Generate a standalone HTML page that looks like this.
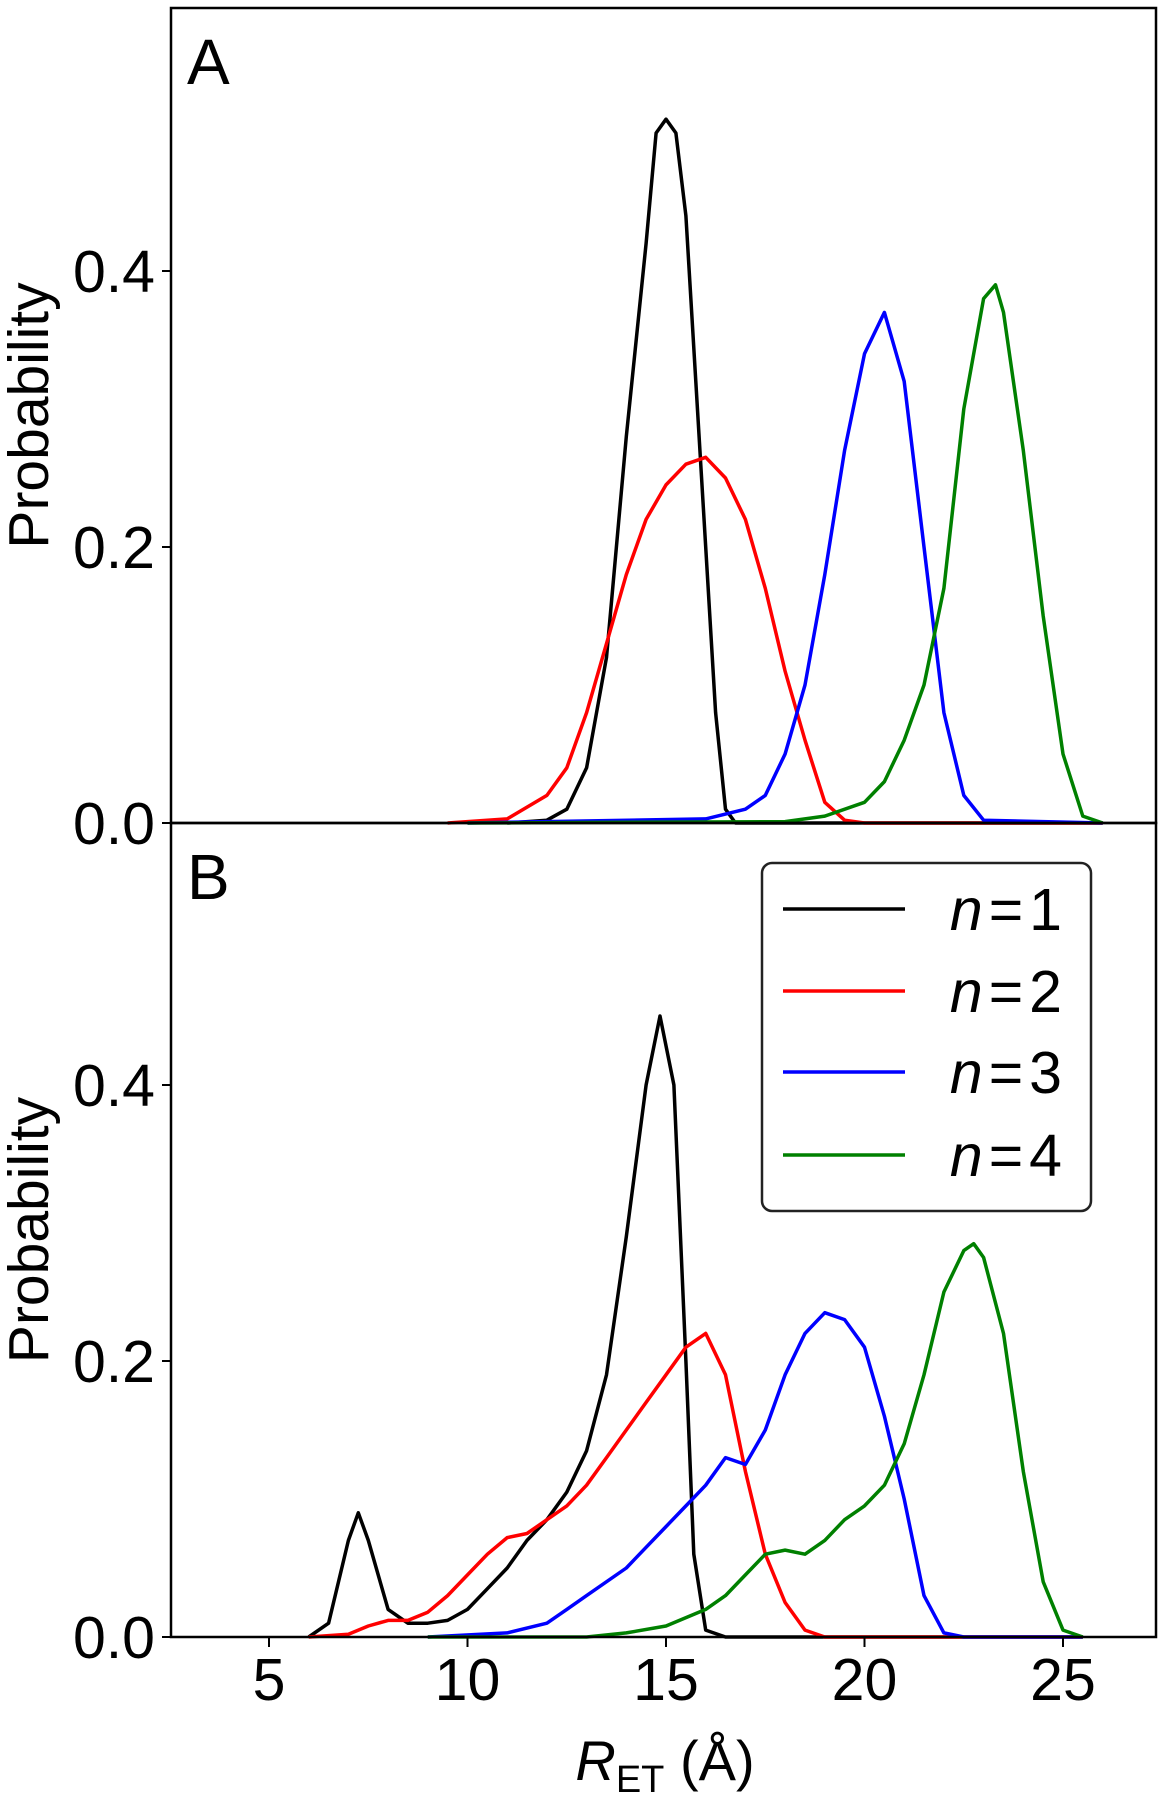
<!DOCTYPE html>
<html><head><meta charset="utf-8"><style>
body{margin:0;background:#fff}
svg text{font-family:"Liberation Sans",sans-serif;fill:#000}
</style></head><body>
<svg id="chart" width="1164" height="1800" viewBox="0 0 1164 1800" xmlns="http://www.w3.org/2000/svg">
<g id="plots"></g>
</svg>
<script>
const seriesNames=["n = 1","n = 2","n = 3","n = 4"];
const colors=["#000000","#ff0000","#0000ff","#008000"];
const xTicks=[5,10,15,20,25];
const yTicks=[0.0,0.2,0.4];
const yTickLabels=["0.0","0.2","0.4"];
// Panel A
const aN1x=[11,12,12.5,13,13.5,14,14.5,14.75,15,15.25,15.5,15.75,16,16.25,16.5,16.75,26];
const aN1y=[0,0.002,0.01,0.04,0.12,0.28,0.42,0.50,0.51,0.50,0.44,0.32,0.20,0.08,0.01,0,0];
const aN2x=[9.5,11,12,12.5,13,13.5,14,14.5,15,15.5,16,16.5,17,17.5,18,18.5,19,19.5,20,26];
const aN2y=[0,0.003,0.02,0.04,0.08,0.13,0.18,0.22,0.245,0.26,0.265,0.25,0.22,0.17,0.11,0.06,0.015,0.002,0,0];
const aN3x=[10,16,17,17.5,18,18.5,19,19.5,20,20.5,21,21.5,22,22.5,23,26];
const aN3y=[0,0.003,0.01,0.02,0.05,0.10,0.18,0.27,0.34,0.37,0.32,0.20,0.08,0.02,0.002,0];
const aN4x=[10,18,19,20,20.5,21,21.5,22,22.5,23,23.3,23.5,24,24.5,25,25.5,26];
const aN4y=[0,0.001,0.005,0.015,0.03,0.06,0.10,0.17,0.30,0.38,0.39,0.37,0.27,0.15,0.05,0.005,0];
// Panel B
const bN1x=[6,6.5,7,7.25,7.5,8,8.5,9,9.5,10,10.5,11,11.5,12,12.5,13,13.5,14,14.5,14.85,15.2,15.5,15.7,16,16.5,25.5];
const bN1y=[0,0.01,0.07,0.09,0.07,0.02,0.01,0.01,0.012,0.02,0.035,0.05,0.07,0.085,0.105,0.135,0.19,0.29,0.40,0.45,0.40,0.20,0.06,0.005,0,0];
const bN2x=[6,7,7.5,8,8.5,9,9.5,10,10.5,11,11.5,12,12.5,13,13.5,14,14.5,15,15.5,16,16.5,17,17.5,18,18.5,19,25.5];
const bN2y=[0,0.002,0.008,0.012,0.012,0.018,0.03,0.045,0.06,0.072,0.075,0.085,0.095,0.11,0.13,0.15,0.17,0.19,0.21,0.22,0.19,0.12,0.06,0.025,0.005,0,0];
const bN3x=[9,11,12,12.5,13,14,14.5,15,15.5,16,16.5,17,17.5,18,18.5,19,19.5,20,20.5,21,21.5,22,22.5,25.5];
const bN3y=[0,0.003,0.01,0.02,0.03,0.05,0.065,0.08,0.095,0.11,0.13,0.125,0.15,0.19,0.22,0.235,0.23,0.21,0.16,0.10,0.03,0.003,0,0];
const bN4x=[9,13,14,15,16,16.5,17,17.5,18,18.5,19,19.5,20,20.5,21,21.5,22,22.5,22.75,23,23.5,24,24.5,25,25.5];
const bN4y=[0,0.0,0.003,0.008,0.02,0.03,0.045,0.06,0.063,0.06,0.07,0.085,0.095,0.11,0.14,0.19,0.25,0.28,0.285,0.275,0.22,0.12,0.04,0.005,0];

const NS="http://www.w3.org/2000/svg";
const g=document.getElementById('plots');
const L=171,R=1156;
function xs(v){return 269+(v-5)*(1063-269)/20;}
function mk(tag,attrs,parent){const e=document.createElementNS(NS,tag);for(const k in attrs)e.setAttribute(k,attrs[k]);(parent||g).appendChild(e);return e;}
function panel(name,top,bottom,y0,seriesX,seriesY,letter){
  const ys=v=>y0-v*(276/0.2);
  for(let i=0;i<4;i++){
    const d=seriesX[i].map((x,j)=>(j?'L':'M')+xs(x).toFixed(1)+','+ys(seriesY[i][j]).toFixed(1)).join('');
    const p=mk('path',{d:d,fill:'none',stroke:colors[i],'stroke-width':3.5,'stroke-linejoin':'round'});
    
    
  }
  const fr=mk('rect',{x:L,y:top,width:R-L,height:bottom-top,fill:'none',stroke:'#000','stroke-width':2.5});
  
  
  yTicks.forEach((t,i)=>{
    const y=ys(t);
    mk('line',{x1:L-9,x2:L,y1:y,y2:y,stroke:'#000','stroke-width':2});
    const tx=mk('text',{x:L-16,y:y+21,'text-anchor':'end','font-size':59});
    tx.textContent=yTickLabels[i];
    
    
  });
  const lab=mk('text',{x:187,y:top+76,'font-size':64});
  lab.textContent=letter;
  
  
  const yl=mk('text',{transform:'translate(48,'+((top+bottom)/2)+') rotate(-90)','text-anchor':'middle','font-size':57});
  yl.textContent='Probability';
  
  
}
panel('a',8,823,823,[aN1x,aN2x,aN3x,aN4x],[aN1y,aN2y,aN3y,aN4y],'A');
panel('b',823,1637,1637,[bN1x,bN2x,bN3x,bN4x],[bN1y,bN2y,bN3y,bN4y],'B');
xTicks.forEach(t=>{
  const x=xs(t);
  mk('line',{x1:x,x2:x,y1:1637,y2:1647,stroke:'#000','stroke-width':2});
  const tx=mk('text',{x:x,y:1700,'text-anchor':'middle','font-size':59});
  tx.textContent=t;
  
  
});
const xl=mk('text',{x:665,y:1780,'text-anchor':'middle','font-size':56});
xl.innerHTML='<tspan font-style="italic">R</tspan><tspan font-size="38" dy="12">ET</tspan><tspan dy="-12"> (Å)</tspan>';


// legend
const lg=mk('g',{});


mk('rect',{x:762,y:863,width:329,height:348,rx:10,fill:'#fff',stroke:'#222','stroke-width':2.5},lg);
const ly=[909,991,1072,1155];
seriesNames.forEach((s,i)=>{
  const ln=mk('line',{x1:783,x2:905,y1:ly[i],y2:ly[i],stroke:colors[i],'stroke-width':3.5},lg);
  
  
  const t=mk('text',{x:1068,y:ly[i]+21,'text-anchor':'end','font-size':59},lg);
  t.innerHTML='<tspan font-style="italic">n</tspan>='+(i+1);
  t.setAttribute('word-spacing','0');
  t.setAttribute('letter-spacing','6');
  
  
});
</script>
</body></html>
